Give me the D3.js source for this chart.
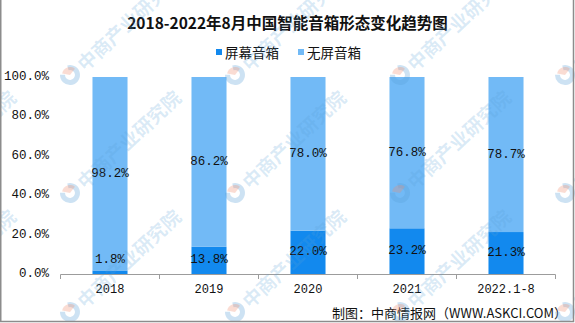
<!DOCTYPE html>
<html>
<head>
<meta charset="utf-8">
<script src="https://cdn.jsdelivr.net/npm/d3@7/dist/d3.min.js"></script>
<style>
  html, body { margin: 0; padding: 0; background: #fff; }
  svg { display: block; }
</style>
</head>
<body>
<svg id="chart" width="575" height="323"></svg>
<script>
// Smart speaker form factor shares, 2018 – Aug 2022
const categories = ["2018", "2019", "2020", "2021", "2022.1-8"];
const screenShare = [1.8, 13.8, 22.0, 23.2, 21.3];     // 屏幕音箱
const noScreenShare = [98.2, 86.2, 78.0, 76.8, 78.7];  // 无屏音箱
const yTicks = [0, 20, 40, 60, 80, 100];
const seriesNames = ["屏幕音箱", "无屏音箱"];
const colors = ["#1289ee", "#72baf6"];

const svg = d3.select("#chart");
const W = 575, H = 323;
const monoFont = "'Liberation Mono', 'DejaVu Sans Mono', monospace";
const cjkFont = "'Noto Sans CJK SC', 'Noto Sans', sans-serif";

const x = d3.scaleBand()
  .domain(categories)
  .range([60.5, 555.5])
  .paddingInner(0.646)
  .paddingOuter(0.323);
const y = d3.scaleLinear().domain([0, 100]).range([274, 77]);

// title
svg.append("text")
  .attr("x", 287.5).attr("y", 21.5)
  .attr("text-anchor", "middle").attr("dominant-baseline", "central")
  .attr("font-family", cjkFont).attr("font-weight", "bold")
  .attr("font-size", 15.5).attr("fill", "#111")
  .text("2018-2022年8月中国智能音箱形态变化趋势图");

// legend
const legendX = [216, 298];
seriesNames.forEach((name, i) => {
  const g = svg.append("g").attr("transform", `translate(${legendX[i]},52)`);
  g.append("rect").attr("x", 0).attr("y", -3).attr("width", 6).attr("height", 6).attr("fill", colors[i]);
  g.append("text").attr("x", 9).attr("y", 0)
    .attr("dominant-baseline", "central")
    .attr("font-family", cjkFont).attr("font-size", 13.5).attr("fill", "#111")
    .text(name);
});

// stacked bars
const rows = categories.map((c, i) => ({ cat: c, screen: screenShare[i], noScreen: noScreenShare[i] }));
const stack = d3.stack().keys(["screen", "noScreen"])(rows);

stack.forEach((layer, li) => {
  svg.append("g").selectAll("rect")
    .data(layer)
    .join("rect")
    .attr("x", d => x(d.data.cat))
    .attr("width", x.bandwidth())
    .attr("y", d => y(d[1]))
    .attr("height", d => y(d[0]) - y(d[1]))
    .attr("fill", colors[li]);
});

// value labels, centred in each segment (small segments lift above the baseline)
stack.forEach((layer, li) => {
  svg.append("g").selectAll("text")
    .data(layer)
    .join("text")
    .attr("x", d => x(d.data.cat) + x.bandwidth() / 2)
    .attr("y", d => {
      const c = (y(d[0]) + y(d[1])) / 2;
      return li === 0 ? Math.min(c, y(0) - 14.5) : c;
    })
    .attr("text-anchor", "middle").attr("dominant-baseline", "central")
    .attr("font-family", monoFont).attr("font-size", 12.5).attr("fill", "#111")
    .text(d => (d[1] - d[0]).toFixed(1) + "%");
});

// y axis labels (no axis line)
svg.append("g").selectAll("text")
  .data(yTicks)
  .join("text")
  .attr("x", 49).attr("y", d => y(d))
  .attr("text-anchor", "end").attr("dominant-baseline", "central")
  .attr("font-family", monoFont).attr("font-size", 12.5).attr("fill", "#111")
  .text(d => d.toFixed(1) + "%");

// x axis: baseline, ticks on category boundaries, labels
const xAxis = svg.append("g");
xAxis.append("line")
  .attr("x1", x.range()[0]).attr("x2", x.range()[1]).attr("y1", 274.5).attr("y2", 274.5)
  .attr("stroke", "#9c9c9c").attr("stroke-width", 1);
const bounds = d3.range(categories.length + 1).map(i => x.range()[0] + i * x.step());
xAxis.selectAll("line.tick")
  .data(bounds)
  .join("line")
  .attr("class", "tick")
  .attr("x1", d => d).attr("x2", d => d)
  .attr("y1", 274.5).attr("y2", 279)
  .attr("stroke", "#9c9c9c");
xAxis.selectAll("text")
  .data(categories)
  .join("text")
  .attr("x", d => x(d) + x.bandwidth() / 2)
  .attr("y", 290)
  .attr("text-anchor", "middle").attr("dominant-baseline", "central")
  .attr("font-family", monoFont).attr("font-size", 12).attr("fill", "#111")
  .text(d => d);

// source line
svg.append("text")
  .attr("x", 567).attr("y", 312)
  .attr("text-anchor", "end").attr("dominant-baseline", "central")
  .attr("font-family", cjkFont).attr("font-size", 13).attr("fill", "#111")
  .text("制图：中商情报网（WWW.ASKCI.COM）");

// faint diagonal brand marks
const markX = [-95, 70, 235, 400, 565];
const markY = [-42, 75, 193, 312];
const marks = svg.append("g").attr("pointer-events", "none");
markX.forEach(mx => markY.forEach(my => {
  const g = marks.append("g").attr("transform", `translate(${mx},${my}) rotate(-43)`);
  const arc = d3.arc();
  g.append("path")
    .attr("d", arc({ innerRadius: 5, outerRadius: 10, startAngle: Math.PI * 0.15, endAngle: Math.PI * 1.75 }))
    .attr("fill", "rgba(90,160,215,0.3)");
  g.append("path")
    .attr("d", arc({ innerRadius: 0, outerRadius: 8, startAngle: -Math.PI * 0.2, endAngle: Math.PI * 0.45 }))
    .attr("fill", "rgba(240,140,110,0.3)");
  g.append("text")
    .attr("x", 13).attr("y", 0)
    .attr("dominant-baseline", "central")
    .attr("font-family", cjkFont).attr("font-weight", "bold").attr("font-size", 19)
    .attr("fill", "rgba(90,160,215,0.22)")
    .text("中商产业研究院");
}));

// frame
svg.append("path")
  .attr("d", `M0.75,0 V${H - 1.5} H${W - 1.5} V0`)
  .attr("fill", "none").attr("stroke", "#8c8c8c").attr("stroke-width", 1.5);
</script>
</body>
</html>
